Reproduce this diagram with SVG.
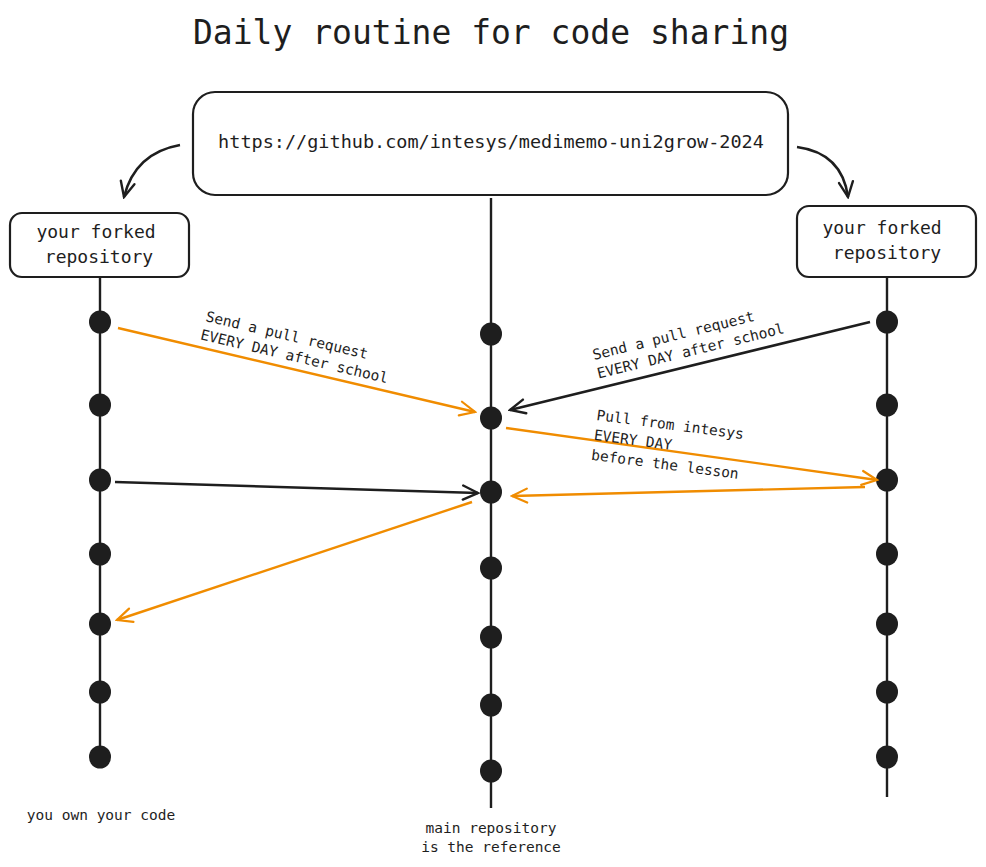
<svg xmlns="http://www.w3.org/2000/svg" width="986" height="867" viewBox="0 0 986 867">
<style>
.t{font-family:"DejaVu Sans Mono","Liberation Mono",monospace;fill:#1e1e1e}
.box{fill:#fff;stroke:#1e1e1e;stroke-width:2.2}
.lane{stroke:#1e1e1e;stroke-width:2.4;fill:none}
.dot{fill:#1e1e1e}
.ao{stroke:#f08c00;stroke-width:2.4;fill:none}
.ab{stroke:#1e1e1e;stroke-width:2.6;fill:none}
.lbl{font-family:"DejaVu Sans Mono","Liberation Mono",monospace;font-size:14.5px;fill:#1e1e1e}
</style>
<defs>
<marker id="mo" viewBox="-18 -10 20 20" refX="0" refY="0" markerWidth="20" markerHeight="20" orient="auto" markerUnits="userSpaceOnUse"><path d="M-15,-7 L0,0 L-15,7" fill="none" stroke="#f08c00" stroke-width="2.2" stroke-linecap="round"/></marker>
<marker id="mb" viewBox="-18 -10 20 20" refX="0" refY="0" markerWidth="20" markerHeight="20" orient="auto" markerUnits="userSpaceOnUse"><path d="M-15,-7 L0,0 L-15,7" fill="none" stroke="#1e1e1e" stroke-width="2.4" stroke-linecap="round"/></marker>
</defs>
<rect width="986" height="867" fill="#fff"/>
<text class="t" x="491" y="44" font-size="33" text-anchor="middle">Daily routine for code sharing</text>

<g id="lanes">
<line class="lane" x1="100" y1="277" x2="100" y2="768"/>
<line class="lane" x1="491" y1="198" x2="491" y2="808"/>
<line class="lane" x1="887" y1="277" x2="887" y2="797"/>
</g>

<g id="main-repo">
<rect class="box" x="193" y="92" width="595" height="103" rx="22"/>
<text class="t" x="491" y="148" font-size="18.5" text-anchor="middle">https://github.com/intesys/medimemo-uni2grow-2024</text>
</g>
<g id="fork-left">
<rect class="box" x="10" y="213" width="179" height="64" rx="12"/>
<text class="t" x="96" y="238" font-size="18" text-anchor="middle">your forked</text>
<text class="t" x="99" y="263" font-size="18" text-anchor="middle">repository</text>
</g>
<g id="fork-right">
<rect class="box" x="797" y="206" width="179" height="71" rx="12"/>
<text class="t" x="882" y="234" font-size="18" text-anchor="middle">your forked</text>
<text class="t" x="887" y="259" font-size="18" text-anchor="middle">repository</text>
</g>

<g id="commits-left" class="dot">
<ellipse cx="100" cy="322" rx="11" ry="11.5"/>
<ellipse cx="100" cy="405" rx="11" ry="11.5"/>
<ellipse cx="100" cy="480" rx="11" ry="11.5"/>
<ellipse cx="100" cy="554" rx="11" ry="11.5"/>
<ellipse cx="100" cy="624" rx="11" ry="11.5"/>
<ellipse cx="100" cy="692" rx="11" ry="11.5"/>
<ellipse cx="100" cy="757" rx="11" ry="11.5"/>
</g>
<g id="commits-main" class="dot">
<ellipse cx="491" cy="334" rx="11" ry="11.5"/>
<ellipse cx="491" cy="418" rx="11" ry="11.5"/>
<ellipse cx="491" cy="492" rx="11" ry="11.5"/>
<ellipse cx="491" cy="568" rx="11" ry="11.5"/>
<ellipse cx="491" cy="637" rx="11" ry="11.5"/>
<ellipse cx="491" cy="705" rx="11" ry="11.5"/>
<ellipse cx="491" cy="771" rx="11" ry="11.5"/>
</g>
<g id="commits-right" class="dot">
<ellipse cx="887" cy="322" rx="11" ry="11.5"/>
<ellipse cx="887" cy="405" rx="11" ry="11.5"/>
<ellipse cx="887" cy="480" rx="11" ry="11.5"/>
<ellipse cx="887" cy="554" rx="11" ry="11.5"/>
<ellipse cx="887" cy="624" rx="11" ry="11.5"/>
<ellipse cx="887" cy="692" rx="11" ry="11.5"/>
<ellipse cx="887" cy="757" rx="11" ry="11.5"/>
</g>

<g id="connectors">
<path class="ab" d="M180,145 Q135,153 124,197" marker-end="url(#mb)"/>
<path class="ab" d="M797,147 Q842,153 848,197" marker-end="url(#mb)"/>
<line class="ao" x1="118" y1="328" x2="475" y2="412" stroke-width="3" marker-end="url(#mo)"/>
<line class="ab" x1="870" y1="322" x2="510" y2="410" stroke-width="3" marker-end="url(#mb)"/>
<line class="ao" x1="506" y1="428" x2="877" y2="480" marker-end="url(#mo)"/>
<line class="ab" x1="115" y1="482" x2="478" y2="493" stroke-width="2.8" marker-end="url(#mb)"/>
<line class="ao" x1="865" y1="487" x2="512" y2="496" stroke-width="3" marker-end="url(#mo)"/>
<line class="ao" x1="472" y1="502" x2="117" y2="620" marker-end="url(#mo)"/>
</g>

<g id="labels">
<g transform="translate(205,321) rotate(13.2)">
<text class="lbl" x="0" y="0">Send a pull request</text>
<text class="lbl" x="-1" y="19">EVERY DAY after school</text>
</g>
<g transform="translate(594,360) rotate(-13.7)">
<text class="lbl" x="0" y="0">Send a pull request</text>
<text class="lbl" x="0" y="19">EVERY DAY after school</text>
</g>
<g transform="translate(596,420) rotate(7.4)">
<text class="lbl" x="0" y="0">Pull from intesys</text>
<text class="lbl" x="0" y="20">EVERY DAY</text>
<text class="lbl" x="0" y="40">before the lesson</text>
</g>
<text class="lbl" x="101" y="820" text-anchor="middle">you own your code</text>
<text class="lbl" x="491" y="833" text-anchor="middle">main repository</text>
<text class="lbl" x="491" y="852" text-anchor="middle">is the reference</text>
</g>
</svg>
